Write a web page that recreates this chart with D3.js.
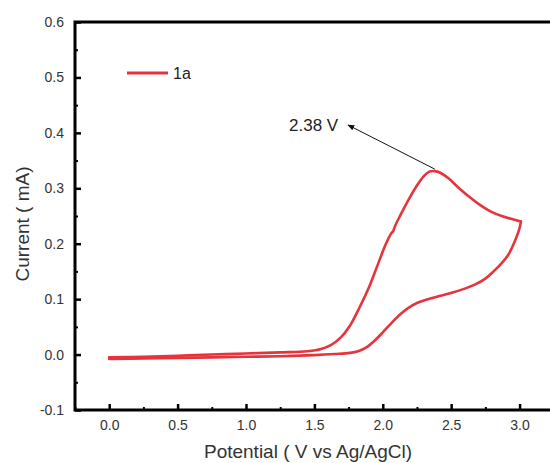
<!DOCTYPE html>
<html>
<head>
<meta charset="utf-8">
<script src="https://cdn.jsdelivr.net/npm/d3@7"></script>
<style>
  body { margin: 0; background: #fff; }
  text { font-family: Arial, "Liberation Sans", sans-serif; }
</style>
</head>
<body>
<script>
// forward sweep (0 V -> 3.0 V)
const fwdPotential = [0.0, 0.25, 0.5, 0.75, 1.0, 1.25, 1.5, 1.65, 1.76, 1.82, 1.88, 1.94, 2.00, 2.06, 2.12, 2.18, 2.25, 2.33, 2.42, 2.51, 2.60, 2.68, 2.75, 2.81, 2.87, 2.92, 2.97, 3.00, 3.01];
const fwdCurrent   = [-0.008, -0.007, -0.006, -0.005, -0.004, -0.003, -0.001, 0.001, 0.003, 0.006, 0.013, 0.025, 0.040, 0.056, 0.071, 0.083, 0.093, 0.100, 0.106, 0.112, 0.119, 0.127, 0.137, 0.150, 0.165, 0.181, 0.207, 0.228, 0.240];
// reverse sweep (3.0 V -> 0 V)
const revPotential = [3.01, 2.95, 2.87, 2.79, 2.71, 2.63, 2.55, 2.48, 2.42, 2.38, 2.34, 2.30, 2.25, 2.19, 2.13, 2.09, 2.075, 2.06, 2.02, 1.96, 1.90, 1.83, 1.76, 1.69, 1.62, 1.55, 1.45, 1.25, 1.0, 0.75, 0.5, 0.25, 0.0];
const revCurrent   = [0.240, 0.244, 0.250, 0.258, 0.270, 0.285, 0.302, 0.318, 0.328, 0.331, 0.330, 0.322, 0.305, 0.280, 0.252, 0.232, 0.222, 0.218, 0.198, 0.160, 0.122, 0.085, 0.052, 0.030, 0.017, 0.010, 0.006, 0.004, 0.002, 0.0, -0.002, -0.004, -0.005];

const xTicks = [0, 0.5, 1.0, 1.5, 2.0, 2.5, 3.0];
const yTicks = [-0.1, 0, 0.1, 0.2, 0.3, 0.4, 0.5, 0.6];
const peak = {E: 2.38, I: 0.331, label: "2.38 V"};
const seriesName = "1a";

const W = 550, H = 463;
const svg = d3.select("body").append("svg").attr("width", W).attr("height", H);

const x = d3.scaleLinear().domain([-0.25, 3.3]).range([75, 560.6]);
const y = d3.scaleLinear().domain([-0.1, 0.6]).range([410, 22]);
const red = "#e5343c";
const fmt = d => d3.format(".1f")(d).replace("\u2212", "-");

/* ** AXES ** */
const minorX = d3.range(-0.25, 3.3, 0.25).filter(v => Math.abs(v*2 - Math.round(v*2)) > 0.01);
const minorY = d3.range(-0.05, 0.6, 0.1);

svg.append("g").attr("transform", "translate(0,410)")
  .call(d3.axisBottom(x).tickValues(minorX).tickSize(-3).tickFormat(""))
  .call(g => g.select(".domain").remove())
  .call(g => g.selectAll("line").attr("stroke-width", 2));
svg.append("g").attr("transform", "translate(0,410)")
  .call(d3.axisBottom(x).tickValues(xTicks).tickSize(-6).tickPadding(10).tickFormat(fmt))
  .call(g => g.select(".domain").remove())
  .call(g => g.selectAll("line").attr("stroke-width", 2.5))
  .call(g => g.selectAll("text").attr("font-size", 14).attr("fill", "#333"));

svg.append("g").attr("transform", "translate(75,0)")
  .call(d3.axisLeft(y).tickValues(minorY).tickSize(-3).tickFormat(""))
  .call(g => g.select(".domain").remove())
  .call(g => g.selectAll("line").attr("stroke-width", 2));
svg.append("g").attr("transform", "translate(75,0)")
  .call(d3.axisLeft(y).tickValues(yTicks).tickSize(-6).tickPadding(11).tickFormat(fmt))
  .call(g => g.select(".domain").remove())
  .call(g => g.selectAll("line").attr("stroke-width", 2.5))
  .call(g => g.selectAll("text").attr("font-size", 14).attr("fill", "#333"));

// frame
svg.append("rect").attr("x", 75).attr("y", 22).attr("width", 560.6 - 75).attr("height", 410 - 22)
  .attr("fill", "none").attr("stroke", "#000").attr("stroke-width", 3);

svg.append("text").attr("x", 308).attr("y", 458).attr("text-anchor", "middle")
  .attr("font-size", 19).attr("fill", "#333").text("Potential ( V vs Ag/AgCl)");
svg.append("text").attr("transform", "translate(29,224) rotate(-90)").attr("text-anchor", "middle")
  .attr("font-size", 19).attr("fill", "#333").text("Current ( mA)");

/* ** CURVE ** */
const line = d3.line().x(d => x(d[0])).y(d => y(d[1])).curve(d3.curveCatmullRom);
const fwd = fwdPotential.map((e, i) => [e, fwdCurrent[i]]);
const rev = revPotential.map((e, i) => [e, revCurrent[i]]);
svg.selectAll("path.cv").data([fwd, rev]).enter().append("path").attr("class", "cv")
  .attr("d", line).attr("fill", "none").attr("stroke", red).attr("stroke-width", 2.6)
  .attr("stroke-linejoin", "round").attr("stroke-linecap", "round");

/* ** ANNOTATION ** */
svg.append("defs").append("marker").attr("id", "arr").attr("viewBox", "0 0 10 10")
  .attr("refX", 9).attr("refY", 5).attr("markerWidth", 7).attr("markerHeight", 7).attr("orient", "auto")
  .append("path").attr("d", "M0,1L10,5L0,9z").attr("fill", "#111");
svg.append("line").attr("x1", x(peak.E)).attr("y1", y(peak.I) - 2).attr("x2", 348).attr("y2", 125)
  .attr("stroke", "#111").attr("stroke-width", 1).attr("marker-end", "url(#arr)");
svg.append("text").attr("x", 289).attr("y", 131).attr("font-size", 17).attr("fill", "#222").text(peak.label);

/* ** LEGEND ** */
svg.append("line").attr("x1", 127).attr("x2", 168).attr("y1", 73).attr("y2", 73)
  .attr("stroke", red).attr("stroke-width", 3);
svg.append("text").attr("x", 173).attr("y", 79).attr("font-size", 16).attr("fill", "#222").text(seriesName);
</script>
</body>
</html>
